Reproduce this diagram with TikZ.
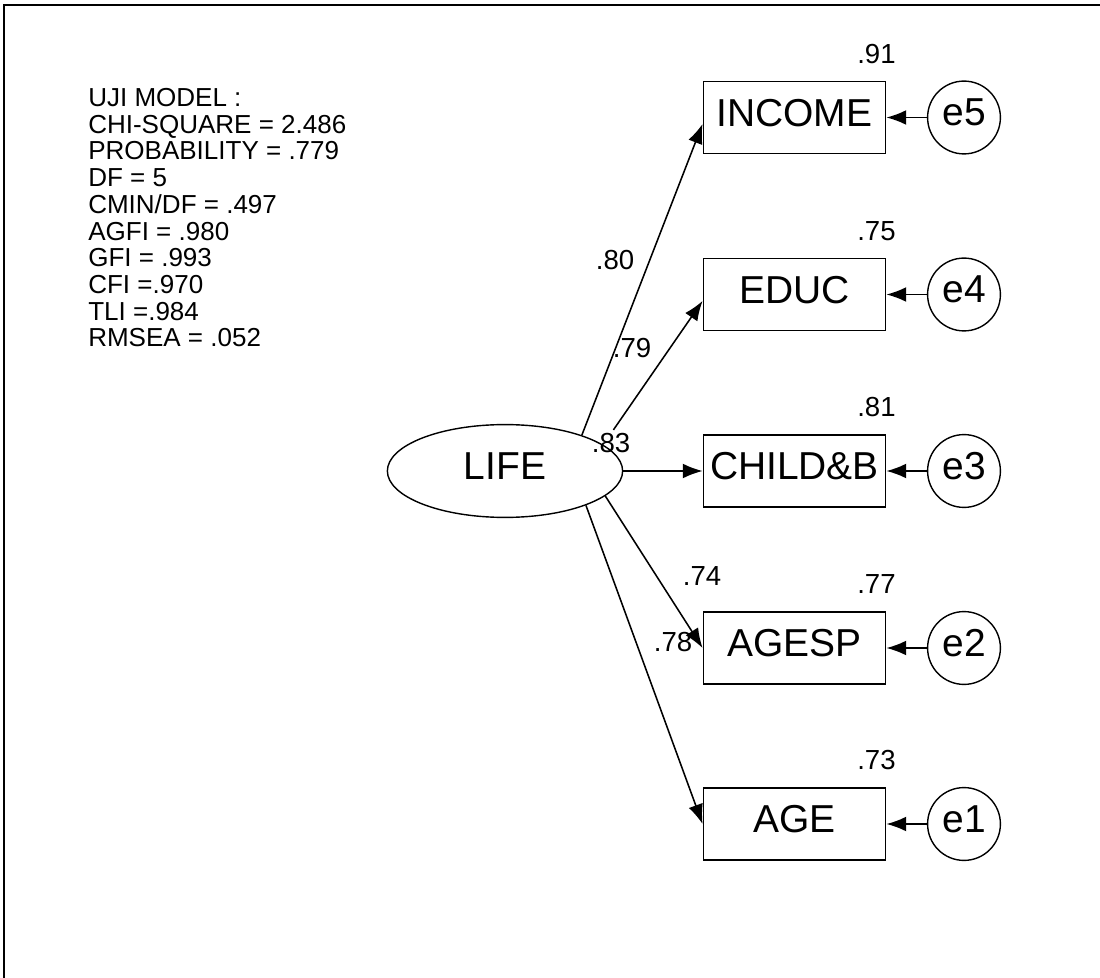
\documentclass[tikz,border=0pt]{standalone}
\usepackage{fontspec}
\setmainfont{Liberation Sans}
\usetikzlibrary{positioning,arrows.meta,shapes.geometric}

\begin{document}
\begin{tikzpicture}[x=0.025cm, y=-0.025cm,
    obs/.style={rectangle, draw, line width=1.3pt, minimum width=4.55cm,
      minimum height=1.8cm, inner sep=0pt, text depth=0.25cm,
      font=\fontsize{27.7}{30}\selectfont},
    err/.style={circle, draw, line width=1pt, minimum size=1.82cm,
      inner sep=0pt, text depth=0.25cm, font=\fontsize{27.7}{30}\selectfont},
    lat/.style={ellipse, draw, line width=1pt, minimum width=5.88cm,
      minimum height=2.32cm, inner sep=0pt, text depth=0.25cm,
      font=\fontsize{27.7}{30}\selectfont},
    est/.style={inner sep=0pt, font=\fontsize{19.6}{21}\selectfont},
    load/.style={-{Latex[length=14pt,width=10.5pt]}, line width=1.1pt},
    res/.style={-{Latex[length=14pt,width=10.5pt]}, line width=1.1pt}
  ]
  \useasboundingbox (0,0) rectangle (1100,978);
  \draw[line width=1.6pt] (4,978) -- (4,5) -- (1100,5);

  % fit summary
  \node[anchor=north west, align=left, inner sep=0pt,
    font=\fontsize{18.5}{19}\selectfont] (fit) at (88,88)
    {UJI MODEL :\\CHI-SQUARE = 2.486\\PROBABILITY = .779\\DF = 5\\CMIN/DF = .497\\
     AGFI = .980\\GFI = .993\\CFI =.970\\TLI =.984\\RMSEA = .052};

  % latent and indicators
  \node[lat] (life)   at (505,471)     {LIFE};
  \node[obs] (income) at (794.5,117.5) {INCOME};
  \node[obs] (educ)   at (794.5,294.5) {EDUC};
  \node[obs] (child)  at (794.5,471)   {CHILD\&B};
  \node[obs] (agesp)  at (794.5,648)   {AGESP};
  \node[obs] (age)    at (794.5,824)   {AGE};

  \node[err] (e5) at (964,117.5) {e5};
  \node[err] (e4) at (964,294.5) {e4};
  \node[err] (e3) at (964,471)   {e3};
  \node[err] (e2) at (964,648)   {e2};
  \node[err] (e1) at (964,824)   {e1};

  \draw[res] (e5)--(income); \draw[res] (e4)--(educ); \draw[res] (e3)--(child);
  \draw[res] (e2)--(agesp);  \draw[res] (e1)--(age);

  \draw[load] (life.25) -- (income.184);
  \draw[load, shorten <=0.45cm] (life.15) -- (educ.184);
  \draw[load] (life) -- (child);
  \draw[load] (life.-14) -- (agesp.west);
  \draw[load] (life.-23) -- (age.west);

  % loadings
  \node[est] (l80) at (615,260) {.80};
  \node[est] (l79) at (632,348) {.79};
  \node[est] (l83) at (611,443) {.83};
  \node[est] (l74) at (702,576) {.74};
  \node[est] (l78) at (673,642) {.78};

  % squared multiple correlations
  \node[est, anchor=south] (r5) at ([xshift=-0.25cm, yshift=0.42cm]income.north east) {.91};
  \node[est, anchor=south] (r4) at ([xshift=-0.25cm, yshift=0.42cm]educ.north east)   {.75};
  \node[est, anchor=south] (r3) at ([xshift=-0.25cm, yshift=0.42cm]child.north east)  {.81};
  \node[est, anchor=south] (r2) at ([xshift=-0.25cm, yshift=0.42cm]agesp.north east)  {.77};
  \node[est, anchor=south] (r1) at ([xshift=-0.25cm, yshift=0.42cm]age.north east)    {.73};
\end{tikzpicture}
\end{document}
